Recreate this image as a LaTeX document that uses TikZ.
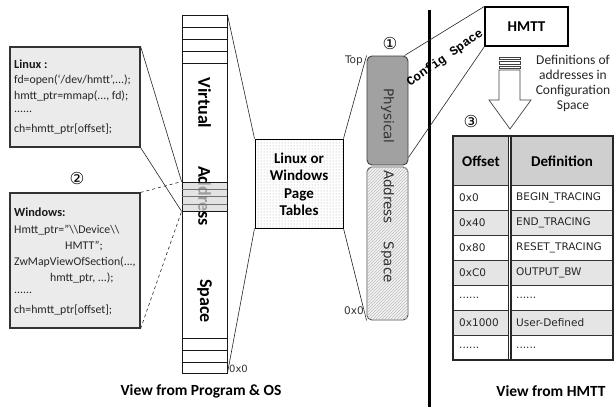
\documentclass[tikz,border=0pt]{standalone}
\usepackage{fontspec}
\setmainfont{Carlito}
\newfontfamily\dejavu{DejaVu Sans}
\newfontfamily\courfont{Liberation Mono}
\usetikzlibrary{patterns}
\newcommand\sixdots{......}
\begin{document}
\begin{tikzpicture}[x=1pt,y=-1pt,
  codebox/.style={draw=black!80, line width=1.2pt, fill=gray!16, minimum width=130pt, inner sep=0pt},
  code/.style={anchor=west, inner sep=0pt, font=\fontsize{11.8}{13}\selectfont, text=black!85},
  codehead/.style={anchor=west, inner sep=0pt, font=\bfseries\fontsize{12.3}{14}\selectfont, text=black!90},
  rot/.style={rotate=-90, inner sep=0pt},
  conn/.style={draw=black!85, line width=0.6pt},
  circnum/.style={inner sep=0pt, font=\dejavu\fontsize{16.5}{18}\selectfont},
  small/.style={inner sep=0pt, font=\dejavu\fontsize{10}{11}\selectfont, text=black!80},
  tcell/.style={anchor=north west, draw=black!80, line width=0.6pt, inner sep=0pt, minimum height=25pt},
  ttext/.style={anchor=west, inner sep=0pt, font=\dejavu\fontsize{10.5}{12}\selectfont, text=black!85},
  thead/.style={inner sep=0pt, font=\bfseries\fontsize{15}{17}\selectfont},
  ttitle/.style={inner sep=0pt, font=\bfseries\fontsize{15.5}{17}\selectfont}
]
\useasboundingbox (0,0) rectangle (615,407);
\fill[white] (0,0) rectangle (615,407);

% ---------- code boxes ----------
\node[codebox, minimum height=100pt] (linux) at (75,97) {};
\node[codehead] (l1) at (14,64) {Linux :};
\node[code] (l2) at (14,80) {fd=open(‘/dev/hmtt’,...);};
\node[code] (l3) at (14,96) {hmtt\_ptr=mmap(..., fd);};
\node[code] (l4) at (14,112) {\sixdots};
\node[code] (l5) at (14,129) {ch=hmtt\_ptr[offset];};

\node[circnum] (c2) at (77,178) {②};

\node[codebox, minimum height=135pt] (windows) at (75,260.5) {};
\node[codehead] (w1) at (14,212) {Windows:};
\node[code] (w2) at (14,230) {Hmtt\_ptr="\textbackslash\textbackslash Device\textbackslash\textbackslash};
\node[code] (w3) at (65,246) {HMTT";};
\node[code] (w4) at (14,262) {ZwMapViewOfSection(...,};
\node[code] (w5) at (50,278) {hmtt\_ptr, ...);};
\node[code] (w6) at (14,293) {\sixdots};
\node[code] (w7) at (14,310) {ch=hmtt\_ptr[offset];};

% ---------- virtual address space ----------
\node[draw=black!90, line width=0.8pt, minimum width=45pt, minimum height=358pt, inner sep=0pt] (virt) at (204.5,194) {};
\foreach \yy in {27,39,51,63,338,350,362}
  \draw[black!90, line width=0.7pt] (182,\yy) -- (227,\yy);
\node[rot, font=\bfseries\fontsize{18}{20}\selectfont] (vt1) at (204.5,103) {Virtual};
\node[rot, font=\bfseries\fontsize{18}{20}\selectfont] (vt2) at (204.5,196) {Address};
\node[rot, font=\bfseries\fontsize{18}{20}\selectfont] (vt3) at (204.5,301) {Space};
\node[draw=black!90, line width=0.8pt, fill=gray!30, fill opacity=0.72, minimum width=45pt, minimum height=29pt, inner sep=0pt] (vgray) at (204.5,196.5) {};
\foreach \yy in {189,196,204}
  \draw[black!55, line width=0.5pt] (182,\yy) -- (227,\yy);
\node[small, anchor=west] (v0) at (229,369) {0x0};

% connectors code -> virtual
\draw[conn] (linux.north east) -- (vgray.north west);
\draw[conn] (linux.south east) -- (vgray.south west);
\draw[conn, dashed] (windows.north east) -- (vgray.north west);
\draw[conn, dashed] (windows.south east) -- (vgray.south west);

% ---------- page tables ----------
\node[draw=black, line width=1pt, minimum width=88pt, minimum height=89pt, inner sep=0pt,
      pattern=dots, pattern color=gray!70] (pt) at (299,183.5) {};
\node[align=center, inner sep=0pt, font=\bfseries\fontsize{15}{17.5}\selectfont] (ptt) at (299,184.5) {Linux or\\Windows\\Page\\Tables};
\draw[conn] (virt.north east) -- (pt.north west);
\draw[conn] (virt.south east) -- (pt.south west);

% ---------- physical address space ----------
\node[draw=black!75, line width=0.9pt, rounded corners=5pt, fill=black!37, minimum width=41pt, minimum height=109pt, inner sep=0pt] (phys) at (387.5,110.5) {};
\node[rot, font=\dejavu\fontsize{13.5}{15}\selectfont, text=black!80] (physt) at (387.5,116) {Physical};
\node[draw=black!70, line width=0.9pt, rounded corners=5pt, fill=gray!8, minimum width=41pt, minimum height=153pt, inner sep=0pt] (addr) at (387.5,243.5) {};
\fill[rounded corners=5pt, pattern=north east lines, pattern color=gray!55] (addr.north west) rectangle (addr.south east);
\node[rot, font=\dejavu\fontsize{13.5}{15}\selectfont, text=black!80] (addrt) at (387.5,226.5) {Address\hspace{18pt}Space};
\node[circnum] (c1) at (390,43) {①};
\node[small, anchor=east, font=\dejavu\fontsize{10.5}{12}\selectfont] (top) at (363,61) {Top};
\node[small, anchor=east, font=\dejavu\fontsize{10.5}{12}\selectfont] (p0) at (364,311) {0x0};
\draw[conn] (pt.north east) -- (phys.north west);
\draw[conn] (pt.south east) -- (addr.south west);

% ---------- divider ----------
\coordinate (dtop) at (429,10);
\coordinate (dbot) at (429,407);
\draw[black, line width=3pt] (dtop) -- (dbot);

% ---------- HMTT ----------
\node[draw=black, line width=1.2pt, minimum width=83pt, minimum height=39pt, inner sep=0pt, font=\bfseries\fontsize{15}{17}\selectfont] (hmtt) at (526.5,26.5) {HMTT};
\draw[conn] ([xshift=-4pt]phys.north east) -- (hmtt.north west);
\draw[conn] ([yshift=8pt]phys.south east) -- (hmtt.south west);
\node[rotate=35, inner sep=0pt, font=\courfont\bfseries\fontsize{12.5}{14}\selectfont] (cfg) at (445,58) {Config Space};

% big arrow
\draw[black!75, line width=0.7pt, fill=white] (499,70) -- (520,70) -- (520,100) -- (531,100) -- (510,129) -- (489,100) -- (499,100) -- cycle;
\foreach \ya/\yb in {57/59.5, 61.5/64, 66/68}
  \draw[black!75, line width=0.6pt, fill=white] (499,\ya) rectangle (520,\yb);
\node[align=center, inner sep=0pt, font=\fontsize{13.5}{15}\selectfont, text=black!85] (deft) at (573,83) {Definitions of\\addresses in\\Configuration\\Space};
\node[circnum] (c3) at (471,121) {③};

% ---------- table ----------
\node[tcell, fill=gray!38, minimum width=55pt, minimum height=49pt] (h1) at (453,136) {};
\node[tcell, fill=gray!38, minimum width=102pt, minimum height=49pt] (h2) at (511,136) {};
\node[thead] (h1t) at (481,161) {Offset};
\node[thead] (h2t) at (562,161) {Definition};
\foreach \i/\off/\dname/\rcol in {0/0x0/BEGIN\_TRACING/white, 1/0x40/END\_TRACING/gray!20, 2/0x80/RESET\_TRACING/white, 3/0xC0/OUTPUT\_BW/gray!20, 4/\sixdots/\sixdots/white, 5/0x1000/User-Defined/gray!20, 6/\sixdots/\sixdots/white}{
  \node[tcell, fill=\rcol, minimum width=55pt] (ra\i) at (453,185+25*\i) {};
  \node[tcell, fill=\rcol, minimum width=102pt] (rb\i) at (511,185+25*\i) {};
  \node[ttext] (rat\i) at (459,198+25*\i) {\off};
  \node[ttext] (rbt\i) at (516,198+25*\i) {\dname};
}
\draw[black!85, line width=1.5pt] (453,136) rectangle (613,360);
\draw[black!85, line width=0.6pt] (508,136) -- (508,360);
\draw[black!85, line width=1.2pt] (511,136) -- (511,360);

% ---------- bottom labels ----------
\node[ttitle] (lab1) at (201,391) {View from Program \& OS};
\node[ttitle] (lab2) at (551,391) {View from HMTT};
\end{tikzpicture}
\end{document}
